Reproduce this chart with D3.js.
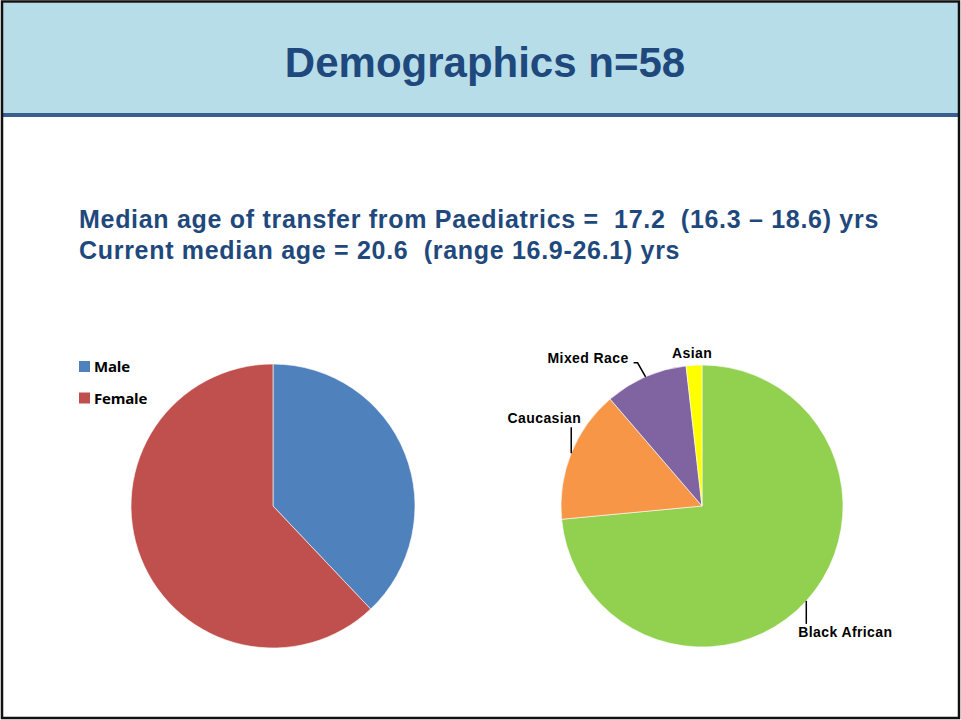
<!DOCTYPE html>
<html>
<head>
<meta charset="utf-8">
<script src="https://cdn.jsdelivr.net/npm/d3@7"></script>
<style>
  body { margin: 0; background: #fff; }
  svg { display: block; }
</style>
</head>
<body>
<div id="chart"></div>
<script>
var svgWidth = 961;
var svgHeight = 720;

// data
var sexLabels = ["Male", "Female"];
var sexCounts = [22, 36];
var sexColors = ["#4F81BD", "#C0504D"];

var raceLabels = ["Black African", "Caucasian", "Mixed Race", "Asian"];
var raceValues = [73.5, 15.2, 9.5, 1.8];
var raceColors = ["#92D050", "#F79646", "#8064A2", "#FFFF00"];

var titleText = "Demographics n=58";
var subLines = [
  "Median age of transfer from Paediatrics =  17.2  (16.3 \u2013 18.6) yrs",
  "Current median age = 20.6  (range 16.9-26.1) yrs"
];

var svg = d3.select("#chart")
  .append("svg")
  .attr("width", svgWidth)
  .attr("height", svgHeight);

// slide frame + header band
svg.append("rect")
  .attr("x", 3).attr("y", 3)
  .attr("width", 956).attr("height", 110)
  .attr("fill", "#B7DEE8");

svg.append("rect")
  .attr("x", 3).attr("y", 113)
  .attr("width", 956).attr("height", 4)
  .attr("fill", "#3A5F8F");

svg.append("rect")
  .attr("x", 2).attr("y", 1.5)
  .attr("width", 957).attr("height", 716.5)
  .attr("fill", "none")
  .attr("stroke", "#111")
  .attr("stroke-width", 2.5);

svg.append("text")
  .attr("x", 485)
  .attr("y", 77)
  .attr("text-anchor", "middle")
  .style("font-family", "'Liberation Sans', Arial, sans-serif")
  .style("font-weight", "bold")
  .style("font-size", "42px")
  .attr("fill", "#1F497D")
  .text(titleText);

svg.selectAll(".subLine")
  .data(subLines)
  .enter()
  .append("text")
  .attr("class", "subLine")
  .attr("x", 79)
  .attr("y", (d, i) => 228 + i * 31)
  .style("font-family", "'Liberation Sans', Arial, sans-serif")
  .style("font-weight", "bold")
  .style("font-size", "25px")
  .style("letter-spacing", "0.7px")
  .attr("fill", "#1F497D")
  .style("white-space", "pre")
  .attr("xml:space", "preserve")
  .text(d => d);

// pies
var radius = 142;
var pie = d3.pie().sort(null).value(d => d.value);
var arc = d3.arc().innerRadius(0).outerRadius(radius);

// left pie: sex
var sexData = sexLabels.map((l, i) => ({ label: l, value: sexCounts[i] }));
var sexColor = d3.scaleOrdinal().domain(sexLabels).range(sexColors);

var leftPie = svg.append("g")
  .attr("transform", "translate(273,506)");

leftPie.selectAll("path")
  .data(pie(sexData))
  .enter()
  .append("path")
  .attr("d", arc)
  .attr("fill", d => sexColor(d.data.label))
  .attr("stroke", "#fff")
  .attr("stroke-width", 0.6);

var legend = svg.append("g")
  .attr("transform", "translate(79,361)");

var legendItems = legend.selectAll(".legendItem")
  .data(sexLabels)
  .enter()
  .append("g")
  .attr("class", "legendItem")
  .attr("transform", (d, i) => "translate(0," + (i * 31.5) + ")");

legendItems.append("rect")
  .attr("width", 11)
  .attr("height", 11)
  .attr("fill", d => sexColor(d));

legendItems.append("text")
  .attr("x", 15)
  .attr("y", 11)
  .style("font-family", "'Open Sans', 'DejaVu Sans', sans-serif")
  .style("font-weight", "bold")
  .style("font-size", "15px")
  .style("letter-spacing", "-0.2px")
  .attr("fill", "#000")
  .text(d => d);

// right pie: ethnicity
var raceData = raceLabels.map((l, i) => ({ label: l, value: raceValues[i] }));
var raceColor = d3.scaleOrdinal().domain(raceLabels).range(raceColors);
var rRadius = 141;
var rArc = d3.arc().innerRadius(0).outerRadius(rRadius);

var rightPie = svg.append("g")
  .attr("transform", "translate(702,506)");

var raceArcs = pie(raceData);

rightPie.selectAll("path")
  .data(raceArcs)
  .enter()
  .append("path")
  .attr("d", rArc)
  .attr("fill", d => raceColor(d.data.label))
  .attr("stroke", "#fff")
  .attr("stroke-width", 0.6);

// label placement relative to the point on the rim at mid-angle
var labelSpec = {
  "Black African": { line: [[0, 0], [0, 23]], tx: -8, ty: 36, anchor: "start" },
  "Caucasian": { line: [[0, 0], [0, -26]], tx: 10, ty: -30, anchor: "end" },
  "Mixed Race": { line: [[0, 0], [-8, -14], [-12, -14]], tx: -17, ty: -14, anchor: "end" },
  "Asian": { line: null, tx: -2, ty: -7, anchor: "middle" }
};

raceArcs.forEach(function(d) {
  var mid = (d.startAngle + d.endAngle) / 2;
  var ax = rRadius * Math.sin(mid);
  var ay = -rRadius * Math.cos(mid);
  var spec = labelSpec[d.data.label];
  if (spec.line) {
    rightPie.append("path")
      .attr("d", d3.line()(spec.line.map(p => [ax + p[0], ay + p[1]])))
      .attr("fill", "none")
      .attr("stroke", "#000")
      .attr("stroke-width", 1.5);
  }
  rightPie.append("text")
    .attr("x", ax + spec.tx)
    .attr("y", ay + spec.ty)
    .attr("text-anchor", spec.anchor)
    .style("font-family", "'Liberation Sans', Arial, sans-serif")
    .style("font-weight", "bold")
    .style("font-size", "14px")
    .style("letter-spacing", "0.4px")
    .attr("fill", "#000")
    .text(d.data.label);
});
</script>
</body>
</html>
